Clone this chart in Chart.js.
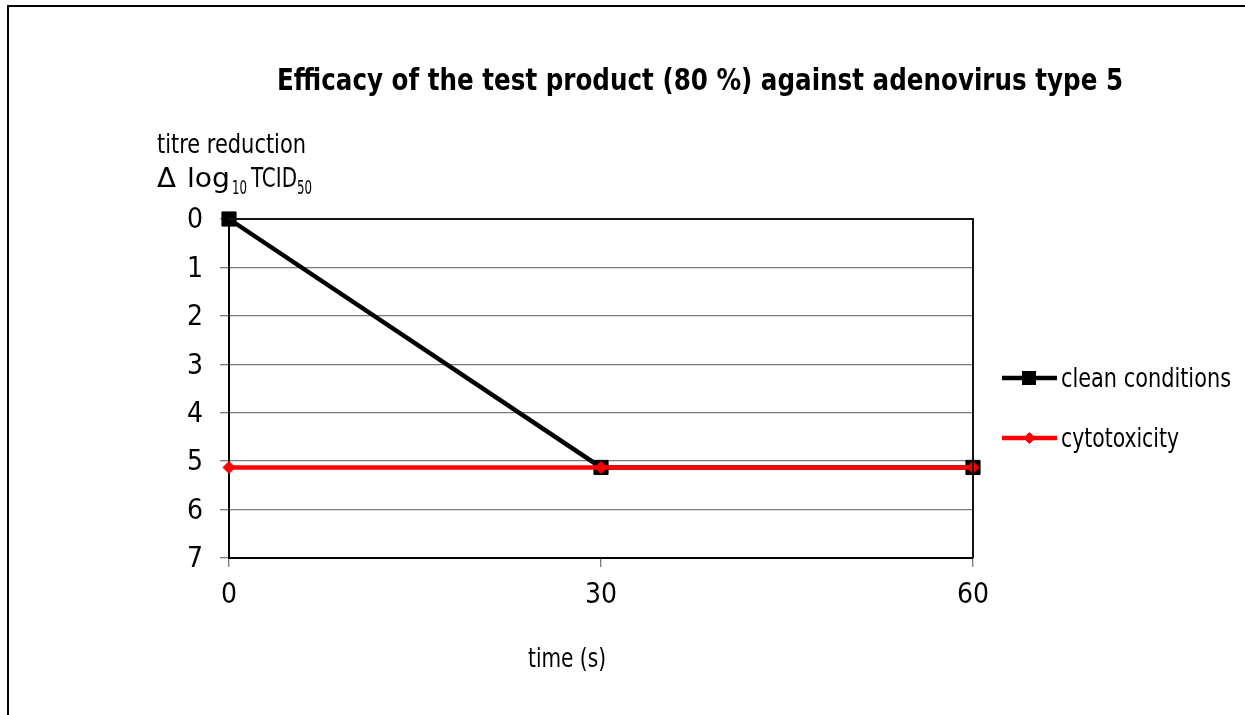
<!DOCTYPE html>
<html><head><meta charset="utf-8">
<script src="https://cdn.jsdelivr.net/npm/chart.js@4/dist/chart.umd.min.js"></script>
<style>html,body{margin:0;padding:0;background:#fff;overflow:hidden}#wrap{width:1245px;height:715px}</style>
</head><body><div id="wrap"><canvas id="c" width="1245" height="715"></canvas></div>
<script>
const times = [0, 30, 60];
const cleanConditions = [0, 5.13, 5.13];
const cytotoxicity = [5.13, 5.13, 5.13];
const xTickValues = [0, 30, 60];
const yMin = 0, yMax = 7;
const seriesNames = ['clean conditions', 'cytotoxicity'];
const seriesColors = ['#000000', '#ff0000'];
const titleText = 'Efficacy of the test product (80 %) against adenovirus type 5';
const yTitle1 = 'titre reduction';
const xTitle = 'time (s)';

const NARROW = "'Liberation Sans Narrow', 'DejaVu Sans Condensed', 'Open Sans', sans-serif";

function fitText(ctx, text, x, y, w, font) {
  ctx.save();
  ctx.font = font;
  ctx.textAlign = 'left';
  ctx.textBaseline = 'alphabetic';
  const m = ctx.measureText(text).width;
  const s = w / m;
  ctx.translate(x, y);
  ctx.scale(s, 1);
  ctx.fillText(text, 0, 0);
  ctx.restore();
}

const decor = {
  id: 'decor',
  afterDraw(chart) {
    const ctx = chart.ctx;
    const a = chart.chartArea;
    ctx.save();
    // outer frame
    ctx.strokeStyle = '#000';
    ctx.lineWidth = 2;
    ctx.beginPath();
    ctx.moveTo(8, 760); ctx.lineTo(8, 6); ctx.lineTo(1260, 6);
    ctx.stroke();
    // plot top & right border
    ctx.strokeStyle = '#111';
    ctx.lineWidth = 2;
    ctx.beginPath();
    ctx.moveTo(a.left, a.top); ctx.lineTo(a.right, a.top); ctx.lineTo(a.right, a.bottom);
    ctx.stroke();
    ctx.fillStyle = '#000';
    // title
    fitText(ctx, titleText, 277, 90, 846, "bold 30px " + NARROW);
    // y title
    fitText(ctx, yTitle1, 157, 153, 149, "27px " + NARROW);
    fitText(ctx, '\u0394', 157, 187, 19, "27px " + NARROW);
    fitText(ctx, 'log', 187, 187, 43, "27px " + NARROW);
    fitText(ctx, '10', 232, 194, 15, "19px " + NARROW);
    fitText(ctx, 'TCID', 251, 187, 46, "27px " + NARROW);
    fitText(ctx, '50', 297, 194, 15, "19px " + NARROW);
    // x title
    fitText(ctx, xTitle, 528, 667, 78, "27px " + NARROW);
    // legend
    const ly = [378, 438];
    for (let i = 0; i < 2; i++) {
      ctx.strokeStyle = seriesColors[i];
      ctx.fillStyle = seriesColors[i];
      ctx.lineWidth = 4.5;
      ctx.beginPath();
      ctx.moveTo(1002, ly[i]); ctx.lineTo(1057, ly[i]);
      ctx.stroke();
      ctx.lineWidth = 1;
      if (i === 0) {
        ctx.fillRect(1022, ly[i] - 7, 14, 14);
      } else {
        Chart.helpers.drawPoint(ctx, {pointStyle: 'rectRot', radius: 5.5, borderWidth: 1, rotation: 0}, 1029.5, ly[i]);
      }
      ctx.fillStyle = '#000';
      fitText(ctx, seriesNames[i], 1061, ly[i] + 9, i === 0 ? 170 : 118, "27px " + NARROW);
    }
    ctx.restore();
  }
};

new Chart(document.getElementById('c'), {
  type: 'line',
  data: {
    datasets: [
      {
        label: seriesNames[0],
        data: times.map((t, i) => ({x: t, y: cleanConditions[i]})),
        borderColor: seriesColors[0], backgroundColor: seriesColors[0],
        borderWidth: 4.5, pointStyle: 'rect', pointRadius: 10, pointBorderWidth: 1,
        tension: 0, clip: false, order: 1
      },
      {
        label: seriesNames[1],
        data: times.map((t, i) => ({x: t, y: cytotoxicity[i]})),
        borderColor: seriesColors[1], backgroundColor: seriesColors[1],
        borderWidth: 4.5, pointStyle: 'rectRot', pointRadius: 6, pointBorderWidth: 1,
        tension: 0, clip: false, order: 0
      }
    ]
  },
  options: {
    responsive: false,
    animation: false,
    events: [],
    layout: {padding: {top: 219, right: 272, bottom: 0, left: 0}},
    plugins: {legend: {display: false}, title: {display: false}, tooltip: {enabled: false}},
    scales: {
      x: {
        type: 'linear', min: 0, max: 60,
        afterBuildTicks(scale) { scale.ticks = xTickValues.map(v => ({value: v})); },
        afterFit(scale) { scale.height = 157; },
        grid: {drawOnChartArea: false, drawTicks: true, tickLength: 9, color: '#7a7a7a', lineWidth: 1.3},
        border: {display: true, color: '#000', width: 2},
        ticks: {color: '#000', padding: 12, font: {family: NARROW, size: 28}, maxRotation: 0}
      },
      y: {
        type: 'linear', min: yMin, max: yMax, reverse: true,
        afterFit(scale) { scale.width = 229; },
        grid: {drawOnChartArea: true, drawTicks: true, tickLength: 9, color: '#7a7a7a', lineWidth: 1.3},
        border: {display: true, color: '#000', width: 2},
        ticks: {stepSize: 1, color: '#000', padding: 17, labelOffset: 2, font: {family: NARROW, size: 28}}
      }
    }
  },
  plugins: [decor]
});
</script>
</body></html>
